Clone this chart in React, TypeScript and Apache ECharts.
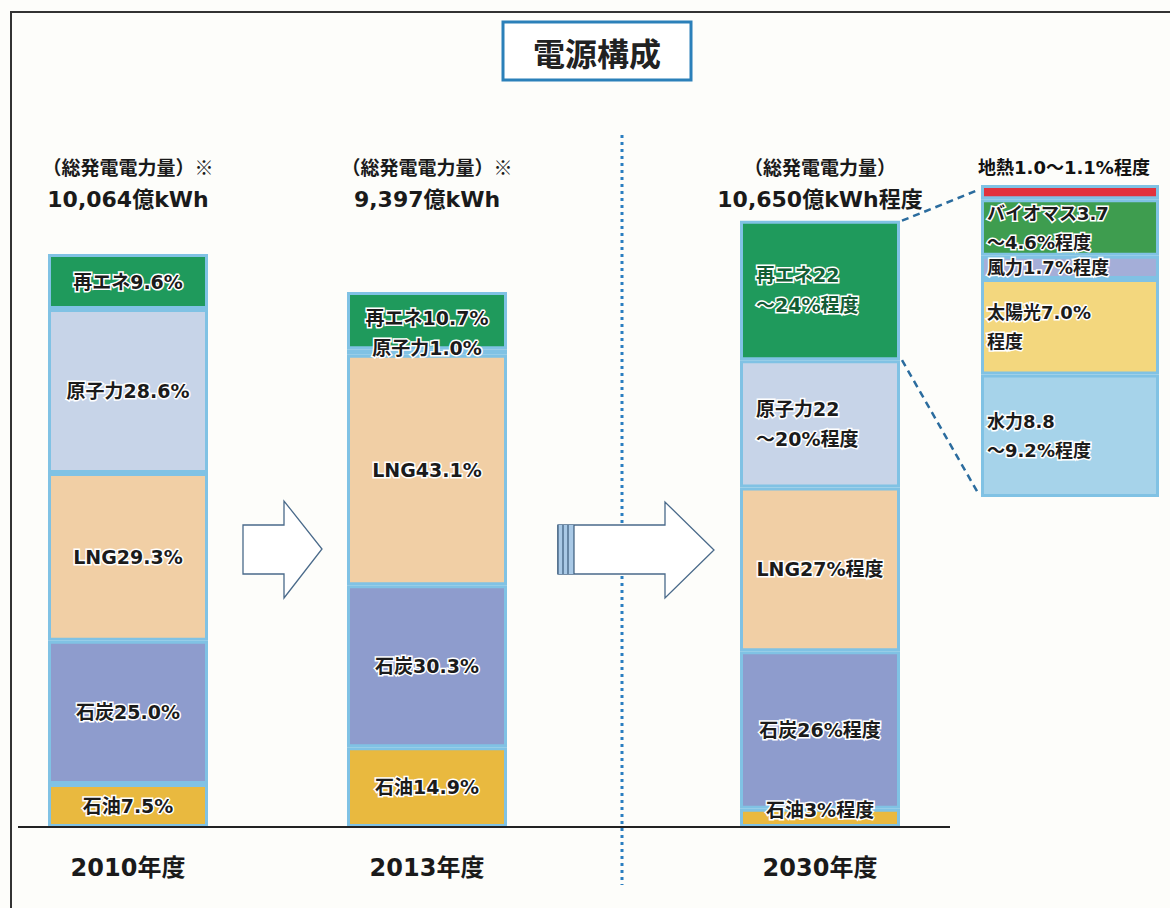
import React, { useEffect, useRef } from "react";
import * as echarts from "echarts";

const FONT = '"DejaVu Sans", "Noto Sans CJK JP", "Noto Sans CJK SC", sans-serif';
const CJK_FONT = '"Noto Sans CJK JP", "Noto Sans CJK SC", sans-serif';

// ---- data ----
const years = ["2010年度", "2013年度", "2030年度"];
const totals = [10064, 9397, 10650]; // 億kWh
const headerNotes = ["（総発電電力量）※", "（総発電電力量）※", "（総発電電力量）"];
const totalSuffix = ["億kWh", "億kWh", "億kWh程度"];

const sources = ["石油", "石炭", "LNG", "原子力", "再エネ"];
const oilPct = [7.5, 14.9, 3];
const coalPct = [25.0, 30.3, 26];
const lngPct = [29.3, 43.1, 27];
const nuclearPct = [28.6, 1.0, 21];
const renewPct = [9.6, 10.7, 23];

const oilLabels = ["石油7.5%", "石油14.9%", "石油3%程度"];
const coalLabels = ["石炭25.0%", "石炭30.3%", "石炭26%程度"];
const lngLabels = ["LNG29.3%", "LNG43.1%", "LNG27%程度"];
const nuclearLabels = ["原子力28.6%", "原子力1.0%", "原子力22\n～20%程度"];
const renewLabels = ["再エネ9.6%", "再エネ10.7%", "再エネ22\n～24%程度"];

const breakdownNames = ["水力", "太陽光", "風力", "バイオマス", "地熱"];
const breakdownPct = [9.0, 7.0, 1.7, 4.15, 1.05];
const breakdownLabels = [
  "水力8.8\n～9.2%程度",
  "太陽光7.0%\n程度",
  "風力1.7%程度",
  "バイオマス3.7\n～4.6%程度",
  "地熱1.0～1.1%程度",
];

// ---- styles ----
const mainColors = ["#e9b93f", "#8e9ccd", "#f1cfa5", "#c7d4e8", "#1f9a5c"];
const breakdownColors = ["#a6d3ea", "#f3d77e", "#a4aed8", "#3e9d4f", "#e2323c"];
const BAR_BORDER = "#80c2e4";

const gridLefts = [48, 347, 740];
const GRID_W = 160;
const GRID_TOP = 30;
const GRID_H = 797;
const BASE_Y = GRID_TOP + GRID_H;
const Y_MAX = 14000;

function buildOption() {
  const pcts = [oilPct, coalPct, lngPct, nuclearPct, renewPct];
  const labels = [oilLabels, coalLabels, lngLabels, nuclearLabels, renewLabels];

  const grid: any[] = [];
  const xAxis: any[] = [];
  const yAxis: any[] = [];
  const series: any[] = [];

  for (let g = 0; g < 3; g++) {
    grid.push({ left: gridLefts[g], width: GRID_W, top: GRID_TOP, height: GRID_H });
    xAxis.push({
      type: "category",
      gridIndex: g,
      data: [years[g]],
      axisLine: { show: false },
      axisTick: { show: false },
      axisLabel: {
        margin: 29,
        fontSize: 24,
        fontWeight: "bold",
        color: "#1a1a1a",
        fontFamily: FONT,
      },
    });
    yAxis.push({ type: "value", gridIndex: g, min: 0, max: Y_MAX, show: false });

    for (let s = 0; s < sources.length; s++) {
      let position: any = "inside";
      let distance = 5;
      let offset: number[] = [0, 0];
      let color = "#1b1b1b";
      if (g === 2 && (s === 3 || s === 4)) {
        position = "insideLeft";
        distance = 16;
      }
      if (g === 1 && s === 3) offset = [0, -4];
      if (g === 1 && s === 4) offset = [0, -3];
      if (g === 2 && s === 0) offset = [0, -8];
      if (g === 2 && s === 4) color = "#135c34";
      series.push({
        type: "bar",
        name: sources[s],
        xAxisIndex: g,
        yAxisIndex: g,
        stack: "main" + g,
        barWidth: "100%",
        data: [(totals[g] * pcts[s][g]) / 100],
        itemStyle: { color: mainColors[s], borderColor: BAR_BORDER, borderWidth: 3 },
        label: {
          show: true,
          position,
          distance,
          offset,
          formatter: labels[s][g],
          color,
          fontFamily: FONT,
          fontWeight: "bold",
          fontSize: 19,
          lineHeight: 30,
          textBorderColor: "#ffffff",
          textBorderWidth: 3,
        },
      });
    }
  }

  // breakdown of renewables (2030)
  const bSum = breakdownPct.reduce((a, b) => a + b, 0);
  grid.push({ left: 981, width: 178, top: 185, height: 312 });
  xAxis.push({ type: "category", gridIndex: 3, data: ["再エネ内訳"], show: false });
  yAxis.push({ type: "value", gridIndex: 3, min: 0, max: bSum, show: false });
  for (let i = 0; i < breakdownNames.length; i++) {
    const isTop = i === breakdownNames.length - 1;
    series.push({
      type: "bar",
      name: breakdownNames[i],
      xAxisIndex: 3,
      yAxisIndex: 3,
      stack: "breakdown",
      barWidth: "100%",
      data: [breakdownPct[i]],
      itemStyle: { color: breakdownColors[i], borderColor: BAR_BORDER, borderWidth: 3 },
      label: isTop
        ? {
            show: true,
            position: "top",
            distance: 9,
            offset: [-6, 0],
            formatter: breakdownLabels[i],
            color: "#111",
            fontFamily: FONT,
            fontWeight: "bold",
            fontSize: 18,
          }
        : {
            show: true,
            position: "insideLeft",
            distance: 6,
            formatter: breakdownLabels[i],
            color: "#1b1b1b",
            fontFamily: FONT,
            fontWeight: "bold",
            fontSize: 18,
            lineHeight: 29,
            textBorderColor: "#ffffff",
            textBorderWidth: 3,
          },
    });
  }

  const scale = GRID_H / Y_MAX;
  const top2030 = BASE_Y - totals[2] * scale;
  const renewBottom2030 = BASE_Y - ((100 - renewPct[2]) / 100) * totals[2] * scale;
  const barRight2030 = gridLefts[2] + GRID_W + 2;

  const graphic: any[] = [
    // frame
    { type: "line", shape: { x1: 10, y1: 12, x2: 1170, y2: 12 }, style: { stroke: "#333", lineWidth: 2 } },
    { type: "line", shape: { x1: 11, y1: 12, x2: 11, y2: 908 }, style: { stroke: "#333", lineWidth: 2 } },
    // title
    {
      type: "rect",
      shape: { x: 503, y: 22, width: 188, height: 58 },
      style: { fill: "#ffffff", stroke: "#2b80b9", lineWidth: 3 },
    },
    {
      type: "text",
      x: 597,
      y: 52,
      style: {
        text: "電源構成",
        fill: "#222",
        font: `bold 32px ${CJK_FONT}`,
        align: "center",
        verticalAlign: "middle",
      },
    },
    // dotted divider
    {
      type: "line",
      shape: { x1: 622, y1: 135, x2: 622, y2: 885 },
      style: { stroke: "#2a7ec0", lineWidth: 3, lineDash: [3, 4] },
    },
    // arrows
    {
      type: "polygon",
      shape: {
        points: [
          [243, 525],
          [284, 525],
          [284, 501],
          [322, 549],
          [284, 598],
          [284, 574],
          [243, 574],
        ],
      },
      style: { fill: "#ffffff", stroke: "#4a6a8a", lineWidth: 1.3 },
    },
    {
      type: "polygon",
      shape: {
        points: [
          [558, 525],
          [665, 525],
          [665, 502],
          [714, 550],
          [665, 598],
          [665, 574],
          [558, 574],
        ],
      },
      style: { fill: "#ffffff", stroke: "#4a6a8a", lineWidth: 1.3 },
    },
    { type: "rect", shape: { x: 558, y: 525, width: 16, height: 49 }, style: { fill: "#a9c9e6" } },
    { type: "line", shape: { x1: 558, y1: 525, x2: 558, y2: 574 }, style: { stroke: "#3a5a7a", lineWidth: 1.2 } },
    { type: "line", shape: { x1: 563, y1: 525, x2: 563, y2: 574 }, style: { stroke: "#3a5a7a", lineWidth: 1.2 } },
    { type: "line", shape: { x1: 568, y1: 525, x2: 568, y2: 574 }, style: { stroke: "#3a5a7a", lineWidth: 1.2 } },
    { type: "line", shape: { x1: 574, y1: 525, x2: 574, y2: 574 }, style: { stroke: "#3a5a7a", lineWidth: 1.2 } },
    // baseline
    {
      type: "line",
      z: 100,
      shape: { x1: 18, y1: BASE_Y, x2: 950, y2: BASE_Y },
      style: { stroke: "#222", lineWidth: 2 },
    },
    // connectors to breakdown
    {
      type: "line",
      shape: { x1: barRight2030, y1: top2030, x2: 978, y2: 190 },
      style: { stroke: "#2b6c9e", lineWidth: 2.5, lineDash: [7, 5] },
    },
    {
      type: "line",
      shape: { x1: barRight2030, y1: renewBottom2030, x2: 978, y2: 493 },
      style: { stroke: "#2b6c9e", lineWidth: 2.5, lineDash: [7, 5] },
    },
  ];

  // headers above bars
  for (let g = 0; g < 3; g++) {
    const cx = gridLefts[g] + GRID_W / 2;
    graphic.push({
      type: "text",
      x: cx,
      y: 166,
      style: {
        text: headerNotes[g],
        fill: "#1a1a1a",
        font: `bold 19px ${CJK_FONT}`,
        align: "center",
        verticalAlign: "middle",
      },
    });
    graphic.push({
      type: "text",
      x: cx,
      y: 199,
      style: {
        text: totals[g].toLocaleString("en-US") + totalSuffix[g],
        fill: "#1a1a1a",
        font: `bold 22px ${FONT}`,
        align: "center",
        verticalAlign: "middle",
      },
    });
  }

  return {
    animation: false,
    backgroundColor: "#fdfdfa",
    grid,
    xAxis,
    yAxis,
    series,
    graphic,
  };
}

export default function App() {
  const ref = useRef<HTMLDivElement>(null);
  useEffect(() => {
    document.body.style.margin = "0";
    const chart = echarts.init(ref.current!, null, { renderer: "svg" });
    chart.setOption(buildOption() as any);
    return () => chart.dispose();
  }, []);
  return <div ref={ref} style={{ width: 1170, height: 908 }} />;
}
